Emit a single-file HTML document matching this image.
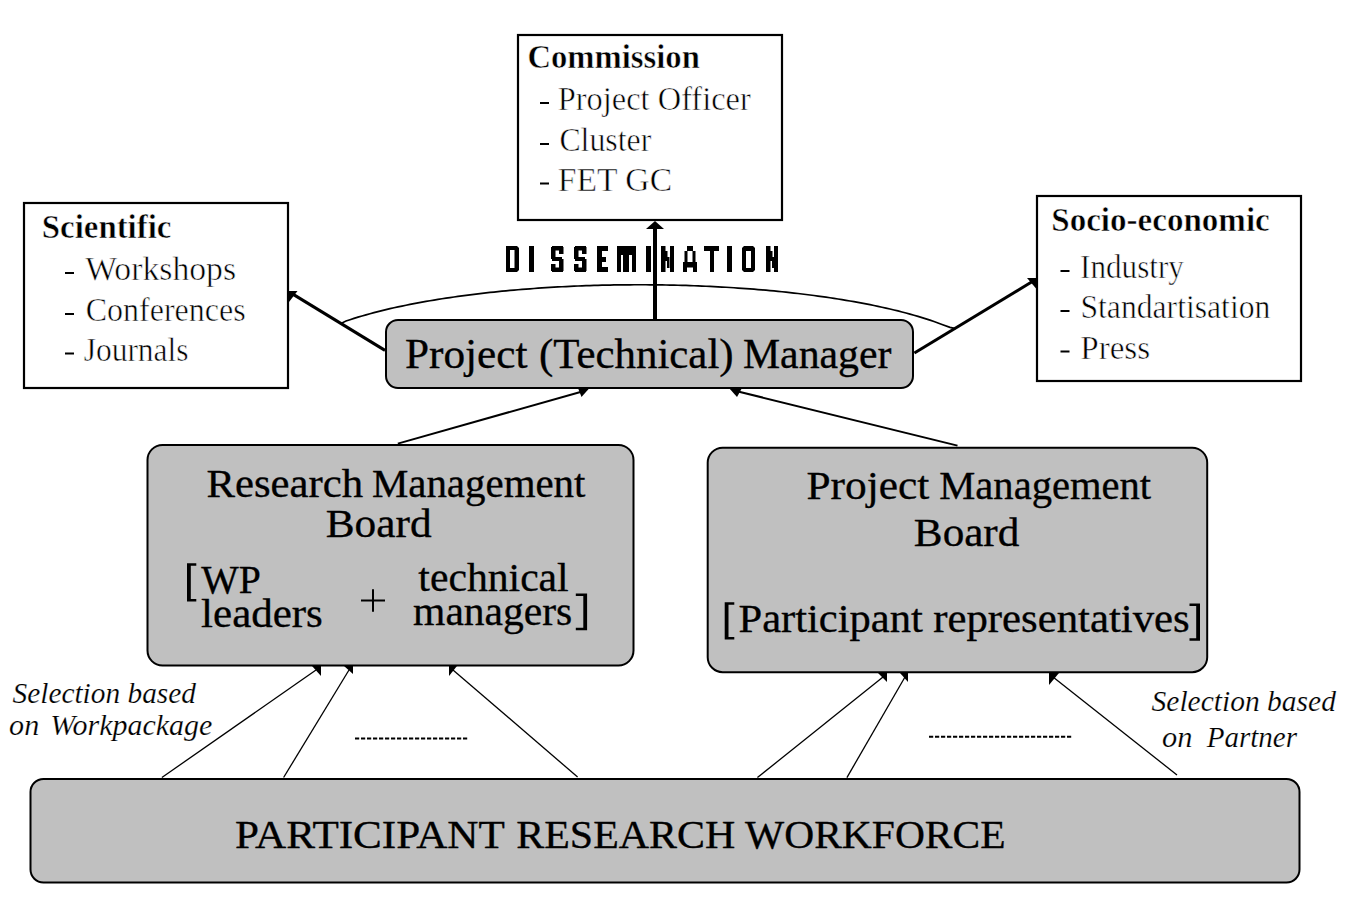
<!DOCTYPE html><html><head><meta charset="utf-8"><style>html,body{margin:0;padding:0;background:#fff;width:1347px;height:902px;overflow:hidden}svg{display:block}text{fill:#000}</style></head><body>
<svg width="1347" height="902" viewBox="0 0 1347 902">
<rect x="0" y="0" width="1347" height="902" fill="#fff"/>
<polyline points="341.5,323.20 346.0,321.06 350.0,319.71 354.0,318.42 358.0,317.18 362.0,315.98 366.0,314.83 370.0,313.72 374.0,312.64 378.0,311.61 382.0,310.61 386.0,309.64 390.0,308.70 394.0,307.79 398.0,306.90 402.0,306.05 406.0,305.22 410.0,304.41 414.0,303.63 418.0,302.88 422.0,302.14 426.0,301.42 430.0,300.73 434.0,300.06 438.0,299.40 442.0,298.77 446.0,298.15 450.0,297.55 454.0,296.97 458.0,296.40 462.0,295.86 466.0,295.32 470.0,294.81 474.0,294.31 478.0,293.82 482.0,293.35 486.0,292.90 490.0,292.46 494.0,292.03 498.0,291.62 502.0,291.22 506.0,290.83 510.0,290.46 514.0,290.10 518.0,289.75 522.0,289.42 526.0,289.10 530.0,288.79 534.0,288.49 538.0,288.20 542.0,287.93 546.0,287.67 550.0,287.42 554.0,287.18 558.0,286.96 562.0,286.74 566.0,286.54 570.0,286.35 574.0,286.17 578.0,286.00 582.0,285.84 586.0,285.69 590.0,285.56 594.0,285.43 598.0,285.31 602.0,285.21 606.0,285.12 610.0,285.03 614.0,284.96 618.0,284.90 622.0,284.85 626.0,284.81 630.0,284.78 634.0,284.76 638.0,284.75 642.0,284.75 646.0,284.76 650.0,284.79 654.0,284.82 658.0,284.87 662.0,284.92 666.0,284.99 670.0,285.06 674.0,285.15 678.0,285.25 682.0,285.35 686.0,285.47 690.0,285.60 694.0,285.74 698.0,285.89 702.0,286.06 706.0,286.23 710.0,286.41 714.0,286.61 718.0,286.82 722.0,287.04 726.0,287.27 730.0,287.51 734.0,287.76 738.0,288.03 742.0,288.30 746.0,288.59 750.0,288.89 754.0,289.21 758.0,289.53 762.0,289.87 766.0,290.22 770.0,290.59 774.0,290.96 778.0,291.35 782.0,291.76 786.0,292.18 790.0,292.61 794.0,293.06 798.0,293.52 802.0,293.99 806.0,294.48 810.0,294.99 814.0,295.51 818.0,296.05 822.0,296.60 826.0,297.17 830.0,297.76 834.0,298.36 838.0,298.99 842.0,299.63 846.0,300.29 850.0,300.97 854.0,301.67 858.0,302.39 862.0,303.14 866.0,303.90 870.0,304.69 874.0,305.51 878.0,306.35 882.0,307.21 886.0,308.10 890.0,309.02 894.0,309.97 898.0,310.95 902.0,311.97 906.0,313.02 910.0,314.10 914.0,315.23 918.0,316.39 922.0,317.61 926.0,318.87 930.0,320.18 934.0,321.54 938.0,322.97 942.0,324.47 950.0,327.40 955.5,328.60" fill="none" stroke="#000" stroke-width="1.7"/>
<rect x="518" y="35" width="264" height="185" fill="#fff" stroke="#000" stroke-width="2.2"/>
<rect x="24" y="203" width="264" height="185" fill="#fff" stroke="#000" stroke-width="2.2"/>
<rect x="1037" y="196" width="264" height="185" fill="#fff" stroke="#000" stroke-width="2.2"/>
<rect x="386" y="320" width="527" height="68" rx="12" ry="12" fill="#c0c0c0" stroke="#000" stroke-width="2"/>
<rect x="147.5" y="445" width="486" height="220.5" rx="15" ry="15" fill="#c0c0c0" stroke="#000" stroke-width="2"/>
<rect x="707.7" y="447.7" width="499.5" height="224.5" rx="15" ry="15" fill="#c0c0c0" stroke="#000" stroke-width="2"/>
<rect x="30.5" y="779" width="1269" height="103.5" rx="13" ry="13" fill="#c0c0c0" stroke="#000" stroke-width="2"/>
<line x1="385" y1="350.4" x2="292" y2="293.6" stroke="#000" stroke-width="3"/>
<polygon points="289,291 297.5,291 289,302" fill="#000"/>
<line x1="914.4" y1="353" x2="1034" y2="280.5" stroke="#000" stroke-width="3"/>
<polygon points="1027,278 1036.5,278 1036.5,289" fill="#000"/>
<line x1="655" y1="319" x2="655" y2="226" stroke="#000" stroke-width="4"/>
<polygon points="655,221 646,229 664,229" fill="#000"/>
<line x1="397.8" y1="443.6" x2="584" y2="391" stroke="#000" stroke-width="2"/>
<polygon points="578,388 589.5,388 581.5,397" fill="#000"/>
<line x1="957.5" y1="445.6" x2="736" y2="391" stroke="#000" stroke-width="2"/>
<polygon points="729,388 742,388 737,397" fill="#000"/>
<line x1="161.9" y1="777.5" x2="316" y2="670" stroke="#000" stroke-width="1.3"/>
<polygon points="312,666 321,666 321,676" fill="#000"/>
<line x1="283.6" y1="777.5" x2="349" y2="670" stroke="#000" stroke-width="1.3"/>
<polygon points="344,666 353,666 353,674" fill="#000"/>
<line x1="577.6" y1="777" x2="453" y2="670" stroke="#000" stroke-width="1.3"/>
<polygon points="449,666 457,666 449,676" fill="#000"/>
<line x1="757.4" y1="777.6" x2="883" y2="677" stroke="#000" stroke-width="1.3"/>
<polygon points="878,673 887,673 887,682" fill="#000"/>
<line x1="846.9" y1="777.6" x2="905" y2="677" stroke="#000" stroke-width="1.3"/>
<polygon points="900,673 908,673 908,682" fill="#000"/>
<line x1="1177" y1="775" x2="1053" y2="677" stroke="#000" stroke-width="1.3"/>
<polygon points="1049,673 1059,673 1049,685" fill="#000"/>
<line x1="355" y1="738.6" x2="468" y2="738.6" stroke="#000" stroke-width="2" stroke-dasharray="4.2,1.8"/>
<line x1="929" y1="736.7" x2="1072" y2="736.7" stroke="#000" stroke-width="2" stroke-dasharray="4.2,1.8"/>
<text x="41.86" y="238" font-family="Liberation Serif" font-size="33" font-weight="bold" font-style="normal" textLength="129.5" lengthAdjust="spacingAndGlyphs" stroke="#fff" stroke-width="0.5">Scientific</text>
<rect x="65" y="272" width="9" height="2" fill="#000"/>
<text x="85.27" y="280" font-family="Liberation Serif" font-size="33" font-weight="normal" font-style="normal" textLength="150.8" lengthAdjust="spacingAndGlyphs" stroke="#fff" stroke-width="0.55">Workshops</text>
<rect x="65" y="313" width="9" height="2" fill="#000"/>
<text x="85.69" y="321" font-family="Liberation Serif" font-size="33" font-weight="normal" font-style="normal" textLength="159.9" lengthAdjust="spacingAndGlyphs" stroke="#fff" stroke-width="0.55">Conferences</text>
<rect x="65" y="352.5" width="9" height="2" fill="#000"/>
<text x="83.64" y="360.5" font-family="Liberation Serif" font-size="33" font-weight="normal" font-style="normal" textLength="105.0" lengthAdjust="spacingAndGlyphs" stroke="#fff" stroke-width="0.55">Journals</text>
<text x="527.4" y="67.5" font-family="Liberation Serif" font-size="33" font-weight="bold" font-style="normal" textLength="172.5" lengthAdjust="spacingAndGlyphs" stroke="#fff" stroke-width="0.5">Commission</text>
<rect x="540" y="102" width="9" height="2" fill="#000"/>
<text x="557.76" y="110" font-family="Liberation Serif" font-size="33" font-weight="normal" font-style="normal" textLength="193.0" lengthAdjust="spacingAndGlyphs" stroke="#fff" stroke-width="0.55">Project Officer</text>
<rect x="540" y="143" width="9" height="2" fill="#000"/>
<text x="559.4" y="151" font-family="Liberation Serif" font-size="33" font-weight="normal" font-style="normal" textLength="91.9" lengthAdjust="spacingAndGlyphs" stroke="#fff" stroke-width="0.55">Cluster</text>
<rect x="540" y="182.5" width="9" height="2" fill="#000"/>
<text x="557.72" y="190.5" font-family="Liberation Serif" font-size="33" font-weight="normal" font-style="normal" textLength="114.4" lengthAdjust="spacingAndGlyphs" stroke="#fff" stroke-width="0.55">FET GC</text>
<text x="1051.25" y="231" font-family="Liberation Serif" font-size="33" font-weight="bold" font-style="normal" textLength="218.5" lengthAdjust="spacingAndGlyphs" stroke="#fff" stroke-width="0.5">Socio-economic</text>
<rect x="1060.5" y="270" width="9" height="2" fill="#000"/>
<text x="1080.08" y="278" font-family="Liberation Serif" font-size="33" font-weight="normal" font-style="normal" textLength="103.8" lengthAdjust="spacingAndGlyphs" stroke="#fff" stroke-width="0.55">Industry</text>
<rect x="1060.5" y="310" width="9" height="2" fill="#000"/>
<text x="1080.48" y="318" font-family="Liberation Serif" font-size="33" font-weight="normal" font-style="normal" textLength="189.9" lengthAdjust="spacingAndGlyphs" stroke="#fff" stroke-width="0.55">Standartisation</text>
<rect x="1060.5" y="350.5" width="9" height="2" fill="#000"/>
<text x="1080.24" y="358.5" font-family="Liberation Serif" font-size="33" font-weight="normal" font-style="normal" textLength="69.9" lengthAdjust="spacingAndGlyphs" stroke="#fff" stroke-width="0.55">Press</text>
<text x="404.95" y="367.6" font-family="Liberation Serif" font-size="42" font-weight="normal" font-style="normal" textLength="122.5" lengthAdjust="spacingAndGlyphs" stroke="#000" stroke-width="0.35">Project</text>
<text x="538.91" y="367.6" font-family="Liberation Serif" font-size="42" font-weight="normal" font-style="normal" textLength="194.7" lengthAdjust="spacingAndGlyphs" stroke="#000" stroke-width="0.35">(Technical)</text>
<text x="742.99" y="367.6" font-family="Liberation Serif" font-size="42" font-weight="normal" font-style="normal" textLength="148.4" lengthAdjust="spacingAndGlyphs" stroke="#000" stroke-width="0.35">Manager</text>
<text x="206.56" y="496.5" font-family="Liberation Serif" font-size="40" font-weight="normal" font-style="normal" textLength="156.5" lengthAdjust="spacingAndGlyphs" stroke="#000" stroke-width="0.35">Research</text>
<text x="371.91" y="496.5" font-family="Liberation Serif" font-size="40" font-weight="normal" font-style="normal" textLength="213.5" lengthAdjust="spacingAndGlyphs" stroke="#000" stroke-width="0.35">Management</text>
<text x="325.74" y="537.3" font-family="Liberation Serif" font-size="40" font-weight="normal" font-style="normal" textLength="105.8" lengthAdjust="spacingAndGlyphs" stroke="#000" stroke-width="0.35">Board</text>
<path d="M187,563.2H196.3V565.7H190.8V599H196.3V601.5H187Z" fill="#000"/>
<text x="201.16" y="592.6" font-family="Liberation Serif" font-size="40" font-weight="normal" font-style="normal" textLength="59.6" lengthAdjust="spacingAndGlyphs" stroke="#000" stroke-width="0.35">WP</text>
<text x="201.14" y="626.5" font-family="Liberation Serif" font-size="40" font-weight="normal" font-style="normal" textLength="121.7" lengthAdjust="spacingAndGlyphs" stroke="#000" stroke-width="0.35">leaders</text>
<path d="M361,600.5H385M373,589.3V611.8" stroke="#000" stroke-width="2" fill="none"/>
<text x="418.38" y="590.5" font-family="Liberation Serif" font-size="40" font-weight="normal" font-style="normal" textLength="150.3" lengthAdjust="spacingAndGlyphs" stroke="#000" stroke-width="0.35">technical</text>
<text x="413.13" y="624.5" font-family="Liberation Serif" font-size="40" font-weight="normal" font-style="normal" textLength="159.1" lengthAdjust="spacingAndGlyphs" stroke="#000" stroke-width="0.35">managers</text>
<path d="M587.1,593.4H575.8V595.9H583.3V627.8H575.8V630.3H587.1Z" fill="#000"/>
<text x="806.54" y="498.8" font-family="Liberation Serif" font-size="40" font-weight="normal" font-style="normal" textLength="122.7" lengthAdjust="spacingAndGlyphs" stroke="#000" stroke-width="0.35">Project</text>
<text x="939.32" y="498.8" font-family="Liberation Serif" font-size="40" font-weight="normal" font-style="normal" textLength="211.7" lengthAdjust="spacingAndGlyphs" stroke="#000" stroke-width="0.35">Management</text>
<text x="913.85" y="545.5" font-family="Liberation Serif" font-size="40" font-weight="normal" font-style="normal" textLength="105.5" lengthAdjust="spacingAndGlyphs" stroke="#000" stroke-width="0.35">Board</text>
<path d="M724.7,602.3H734.3V604.8H728.5V636.9H734.3V639.4H724.7Z" fill="#000"/>
<text x="738.47" y="631.7" font-family="Liberation Serif" font-size="40" font-weight="normal" font-style="normal" textLength="184.3" lengthAdjust="spacingAndGlyphs" stroke="#000" stroke-width="0.35">Participant</text>
<text x="933.24" y="631.7" font-family="Liberation Serif" font-size="40" font-weight="normal" font-style="normal" textLength="256.4" lengthAdjust="spacingAndGlyphs" stroke="#000" stroke-width="0.35">representatives</text>
<path d="M1200,603.6H1189.5V606.1H1196.2V638.3H1189.5V640.8H1200Z" fill="#000"/>
<text x="235.05" y="847.8" font-family="Liberation Serif" font-size="40" font-weight="normal" font-style="normal" textLength="269.8" lengthAdjust="spacingAndGlyphs" stroke="#000" stroke-width="0.35">PARTICIPANT</text>
<text x="516.28" y="847.8" font-family="Liberation Serif" font-size="40" font-weight="normal" font-style="normal" textLength="219.0" lengthAdjust="spacingAndGlyphs" stroke="#000" stroke-width="0.35">RESEARCH</text>
<text x="745.06" y="847.8" font-family="Liberation Serif" font-size="40" font-weight="normal" font-style="normal" textLength="260.5" lengthAdjust="spacingAndGlyphs" stroke="#000" stroke-width="0.35">WORKFORCE</text>
<text x="12.55" y="703.4" font-family="Liberation Serif" font-size="30" font-weight="normal" font-style="italic" textLength="183.4" lengthAdjust="spacingAndGlyphs" stroke="#fff" stroke-width="0.2">Selection based</text>
<text x="9.1" y="734.6" font-family="Liberation Serif" font-size="30" font-weight="normal" font-style="italic" textLength="30.1" lengthAdjust="spacingAndGlyphs" stroke="#fff" stroke-width="0.2">on</text>
<text x="50.32" y="734.6" font-family="Liberation Serif" font-size="30" font-weight="normal" font-style="italic" textLength="162.0" lengthAdjust="spacingAndGlyphs" stroke="#fff" stroke-width="0.2">Workpackage</text>
<text x="1151.55" y="711" font-family="Liberation Serif" font-size="30" font-weight="normal" font-style="italic" textLength="184.4" lengthAdjust="spacingAndGlyphs" stroke="#fff" stroke-width="0.2">Selection based</text>
<text x="1162.09" y="747.4" font-family="Liberation Serif" font-size="30" font-weight="normal" font-style="italic" textLength="30.4" lengthAdjust="spacingAndGlyphs" stroke="#fff" stroke-width="0.2">on</text>
<text x="1206.65" y="747.4" font-family="Liberation Serif" font-size="30" font-weight="normal" font-style="italic" textLength="90.4" lengthAdjust="spacingAndGlyphs" stroke="#fff" stroke-width="0.2">Partner</text>
<path fill="#000" fill-rule="evenodd" d="M506,246H517L519,248V270L517,272H506Z M510,250V268H514.5V250Z"/>
<path fill="#000" fill-rule="evenodd" d="M744,246H753L755,248V270L753,272H744L742,270V248Z M746,251V268H751V251Z"/>
<path fill="#000" d="M529,246H534V272H529ZM552,246H563V250.5H552ZM551,247H555.5V259H551ZM559,247H563.5V254H559ZM552,257H562V261H552ZM559,259H563.5V271H559ZM552,267.5H563V272H552ZM551,264H555.5V271H551ZM575,246H586V250.5H575ZM574,247H578.5V259H574ZM582,247H586.5V254H582ZM575,257H585V261H575ZM582,259H586.5V271H582ZM575,267.5H586V272H575ZM574,264H578.5V271H574ZM597,246H602V272H597ZM597,246H608V251H597ZM597,257H606V262H597ZM597,267H608V272H597ZM617,246H636V255H617ZM617,246H621V272H617ZM623,246H629V272H623ZM632,246H636V272H632ZM646,246H651V272H646ZM661,246H665.5V272H661ZM670,246H674V272H670ZM665,251H667.5V261H665ZM667,257H669.5V268H667ZM687,246H693V251H687ZM684.5,251H687.5V263H684.5ZM692.5,251H695.5V263H692.5ZM683,262H697V267.5H683ZM683,262H687V272H683ZM693,262H697V272H693ZM704,246H719V251H704ZM710,246H714V272H710ZM727,246H732V272H727ZM766,246H770.5V272H766ZM774,246H778V272H774ZM770,251H772.5V261H770ZM772,257H774.5V268H772Z"/>
</svg></body></html>
